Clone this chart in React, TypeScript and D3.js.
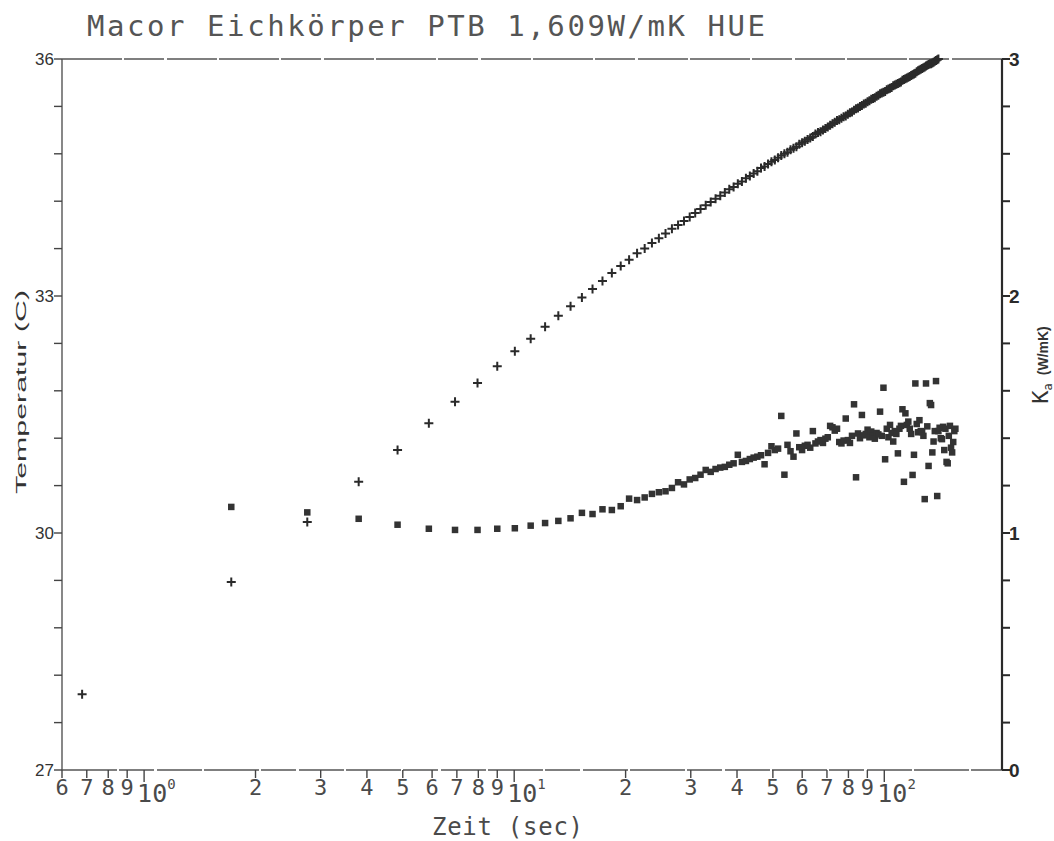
import React from "react";
import * as d3 from "d3";

// ---------- data ----------
const sampleTimes = [
  0.68, 1.72, 2.76, 3.8, 4.84, 5.88, 6.92, 7.96, 9.0, 10.04,
  11.08, 12.12, 13.16, 14.2, 15.24, 16.28, 17.32, 18.36, 19.4, 20.44,
  21.48, 22.52, 23.56, 24.6, 25.64, 26.68, 27.72, 28.76, 29.8, 30.84,
  31.88, 32.92, 33.96, 35.0, 36.04, 37.08, 38.12, 39.16, 40.2, 41.24,
  42.28, 43.32, 44.36, 45.4, 46.44, 47.48, 48.52, 49.56, 50.6, 51.64,
  52.68, 53.72, 54.76, 55.8, 56.84, 57.88, 58.92, 59.96, 61.0, 62.04,
  63.08, 64.12, 65.16, 66.2, 67.24, 68.28, 69.32, 70.36, 71.4, 72.44,
  73.48, 74.52, 75.56, 76.6, 77.64, 78.68, 79.72, 80.76, 81.8, 82.84,
  83.88, 84.92, 85.96, 87.0, 88.04, 89.08, 90.12, 91.16, 92.2, 93.24,
  94.28, 95.32, 96.36, 97.4, 98.44, 99.48, 100.52, 101.56, 102.6, 103.64,
  104.68, 105.72, 106.76, 107.8, 108.84, 109.88, 110.92, 111.96, 113.0, 114.04,
  115.08, 116.12, 117.16, 118.2, 119.24, 120.28, 121.32, 122.36, 123.4, 124.44,
  125.48, 126.52, 127.56, 128.6, 129.64, 130.68, 131.72, 132.76, 133.8, 134.84,
  135.88, 136.92, 137.96, 139.0, 140.04, 141.08, 142.12, 143.16, 144.2, 145.24,
  146.28, 147.32, 148.36, 149.4, 150.44, 151.48, 152.52, 153.56, 154.6, 155.64,
];

// Temperature (C), left axis, "+" markers
const temperature = [
  27.96, 29.38, 30.14, 30.65, 31.05, 31.39, 31.66, 31.9, 32.11, 32.3,
  32.46, 32.61, 32.75, 32.87, 32.98, 33.09, 33.19, 33.29, 33.38, 33.46,
  33.54, 33.6, 33.67, 33.73, 33.79, 33.85, 33.9, 33.95, 34.0, 34.05,
  34.1, 34.15, 34.19, 34.23, 34.27, 34.31, 34.35, 34.38, 34.42, 34.45,
  34.49, 34.52, 34.55, 34.58, 34.62, 34.64, 34.67, 34.7, 34.72, 34.75,
  34.78, 34.8, 34.82, 34.85, 34.87, 34.89, 34.92, 34.94, 34.96, 34.98,
  35.0, 35.02, 35.05, 35.07, 35.08, 35.1, 35.12, 35.14, 35.16, 35.18,
  35.2, 35.22, 35.23, 35.25, 35.27, 35.28, 35.3, 35.32, 35.33, 35.35,
  35.37, 35.38, 35.4, 35.41, 35.43, 35.44, 35.46, 35.47, 35.49, 35.5,
  35.51, 35.53, 35.54, 35.56, 35.57, 35.58, 35.59, 35.61, 35.62, 35.63,
  35.64, 35.66, 35.67, 35.68, 35.69, 35.7, 35.71, 35.73, 35.74, 35.75,
  35.76, 35.77, 35.78, 35.79, 35.8, 35.81, 35.82, 35.84, 35.85, 35.86,
  35.87, 35.88, 35.89, 35.9, 35.91, 35.92, 35.93, 35.94, 35.94, 35.95,
  35.96, 35.97, 35.98, 35.99, 36.0,
];

// Apparent conductivity K_a (W/mK), right axis, square markers
const conductivity = [
  null, 1.11, 1.087, 1.06, 1.035, 1.018, 1.013, 1.013, 1.018, 1.02,
  1.031, 1.042, 1.051, 1.062, 1.085, 1.08, 1.1, 1.097, 1.113, 1.145,
  1.139, 1.15, 1.165, 1.172, 1.176, 1.19, 1.214, 1.205, 1.226, 1.232,
  1.246, 1.266, 1.258, 1.27, 1.276, 1.279, 1.288, 1.294, 1.33, 1.3,
  1.304, 1.312, 1.318, 1.322, 1.328, 1.29, 1.338, 1.366, 1.35, 1.356,
  1.494, 1.246, 1.372, 1.345, 1.322, 1.42, 1.362, 1.35, 1.368, 1.372,
  1.36, 1.43, 1.378, 1.386, 1.392, 1.38, 1.398, 1.404, 1.452, 1.446,
  1.432, 1.44, 1.384, 1.378, 1.39, 1.483, 1.392, 1.38, 1.41, 1.543,
  1.235, 1.42, 1.4, 1.498, 1.412, 1.418, 1.436, 1.404, 1.428, 1.41,
  1.398, 1.422, 1.416, 1.512, 1.41, 1.613, 1.311, 1.44, 1.404, 1.456,
  1.422, 1.386, 1.43, 1.418, 1.336, 1.44, 1.452, 1.522, 1.216, 1.505,
  1.456, 1.47, 1.44, 1.418, 1.245, 1.33, 1.631, 1.46, 1.425, 1.476,
  1.43, 1.426, 1.41, 1.143, 1.631, 1.45, 1.283, 1.548, 1.54, 1.34,
  1.386, 1.43, 1.641, 1.156, 1.43, 1.444, 1.4, 1.396, 1.448, 1.35,
  1.44, 1.3, 1.294, 1.41, 1.452, 1.36, 1.34, 1.384, 1.43, 1.44,
];

// axis ticks / labels
const leftMajorTicks = [27, 30, 33, 36];
const leftTickCount = 16; // 27 .. 36 in steps of 0.6
const leftTickStep = 0.6;
const rightMajorTicks = [0, 1, 2, 3];
const rightTickCount = 16; // 0 .. 3 in steps of 0.2
const rightTickStep = 0.2;
const xMinorTicks = [0.6, 0.7, 0.8, 0.9, 2, 3, 4, 5, 6, 7, 8, 9, 20, 30, 40, 50, 60, 70, 80, 90];
const xMinorLabels = ["6", "7", "8", "9", "2", "3", "4", "5", "6", "7", "8", "9", "2", "3", "4", "5", "6", "7", "8", "9"];
const xDecadeTicks = [1, 10, 100];
const xDecadeExponents = ["0", "1", "2"];

const titleText = "Macor Eichkörper PTB 1,609W/mK HUE";
const xTitle = "Zeit (sec)";
const yLeftTitle = "Temperatur (C)";

// ---------- layout ----------
const W = 1054;
const H = 841;
const left = 62;
const right = 1002;
const top = 59;
const bottom = 770;

const ink = "#333";
const mono = "'DejaVu Sans Mono', 'Liberation Mono', monospace";
const sans = "'Liberation Sans', Arial, sans-serif";

export default function App() {
  const x = d3.scaleLog().domain([0.6, 208]).range([left, right]);
  const yL = d3.scaleLinear().domain([27, 36]).range([bottom, top]);
  const yR = d3.scaleLinear().domain([0, 3]).range([bottom, top]);

  const leftTicks = d3.range(leftTickCount).map((i) => 27 + i * leftTickStep);
  const rightTicks = d3.range(rightTickCount).map((i) => i * rightTickStep);

  const tempPts = temperature.map((v, i) => ({ t: sampleTimes[i], v }));
  const kPts = conductivity
    .map((v, i) => ({ t: sampleTimes[i], v }))
    .filter((d) => d.v !== null) as { t: number; v: number }[];

  const sq = 6.5;

  return (
    <svg
      width={W}
      height={H}
      viewBox={`0 0 ${W} ${H}`}
      style={{ position: "absolute", left: 0, top: 0, background: "#fff" }}
    >
      <rect x={0} y={0} width={W} height={H} fill="#fff" />

      {/* title */}
      <text
        x={87}
        y={36}
        fontFamily={mono}
        fontSize={29}
        fontWeight={300}
        fill="#555"
        textLength={678}
        lengthAdjust="spacing"
      >
        {titleText}
      </text>

      {/* frame */}
      <line x1={left} x2={right} y1={top} y2={top} stroke="#555" strokeWidth={1.3} strokeDasharray="60 2 40 3 50 2" />
      <line x1={left} x2={right} y1={bottom} y2={bottom} stroke="#555" strokeWidth={1.3} strokeDasharray="55 2 35 3 45 2" />
      <line x1={left} x2={left} y1={top} y2={bottom} stroke="#555" strokeWidth={1.4} />
      <line x1={right} x2={right} y1={top} y2={bottom} stroke="#2a2a2a" strokeWidth={2.2} />

      {/* left axis ticks */}
      {leftTicks.map((v, i) => (
        <line key={"lt" + i} x1={left - 8} x2={left} y1={yL(v)} y2={yL(v)} stroke="#444" strokeWidth={1.4} />
      ))}
      {leftMajorTicks.map((v) => (
        <text key={"ll" + v} x={left - 8} y={yL(v) + 6} textAnchor="end" fontFamily={sans} fontSize={17} fill={ink}>
          {v}
        </text>
      ))}

      {/* right axis ticks */}
      {rightTicks.map((v, i) => (
        <line key={"rt" + i} x1={right} x2={right + 8} y1={yR(v)} y2={yR(v)} stroke="#2a2a2a" strokeWidth={2} />
      ))}
      {rightMajorTicks.map((v) => (
        <text key={"rl" + v} x={right + 7} y={yR(v) + 7} fontFamily={sans} fontWeight="bold" fontSize={19} fill="#2a2a2a">
          {v}
        </text>
      ))}

      {/* x axis ticks */}
      {xMinorTicks.map((v, i) => (
        <g key={"xm" + i}>
          <line x1={x(v)} x2={x(v)} y1={bottom} y2={bottom + 8} stroke="#444" strokeWidth={1.4} />
          <text x={x(v)} y={795} textAnchor="middle" fontFamily={mono} fontSize={22} fill="#4a4a4a">
            {xMinorLabels[i]}
          </text>
        </g>
      ))}
      {xDecadeTicks.map((v, i) => (
        <g key={"xd" + v}>
          <line x1={x(v)} x2={x(v)} y1={bottom} y2={bottom + 12} stroke="#444" strokeWidth={1.4} />
          <text x={x(v) - 7} y={802} fontFamily={mono} fontSize={25} fill="#4a4a4a">
            10
            <tspan dy={-13} fontSize={14}>
              {xDecadeExponents[i]}
            </tspan>
          </text>
        </g>
      ))}

      {/* axis titles */}
      <text x={432} y={835} fontFamily={mono} fontSize={24} fill="#4a4a4a" textLength={151} lengthAdjust="spacing">
        {xTitle}
      </text>
      <text
        transform="translate(26,392) rotate(-90)"
        textAnchor="middle"
        fontFamily={sans}
        fontSize={15}
        fill={ink}
        textLength={204}
        lengthAdjust="spacingAndGlyphs"
      >
        {yLeftTitle}
      </text>
      <text transform="translate(1048,365) rotate(-90)" textAnchor="middle" fill="#333">
        <tspan fontFamily={mono} fontSize={22}>K</tspan>
        <tspan fontFamily={mono} fontSize={12} dy={4}>a</tspan>
        <tspan fontFamily={sans} fontWeight="bold" fontSize={14} dy={-4} dx={8}>
          (W/mK)
        </tspan>
      </text>

      {/* conductivity squares */}
      {kPts.map((d, i) => (
        <rect key={"k" + i} x={x(d.t) - sq / 2} y={yR(d.v) - sq / 2} width={sq} height={sq} fill="#333" />
      ))}

      {/* temperature plus markers */}
      {tempPts.map((d, i) => (
        <path
          key={"p" + i}
          d={`M${x(d.t) - 4.5},${yL(d.v)}H${x(d.t) + 4.5}M${x(d.t)},${yL(d.v) - 4.5}V${yL(d.v) + 4.5}`}
          stroke="#2a2a2a"
          strokeWidth={2}
          fill="none"
        />
      ))}
    </svg>
  );
}
